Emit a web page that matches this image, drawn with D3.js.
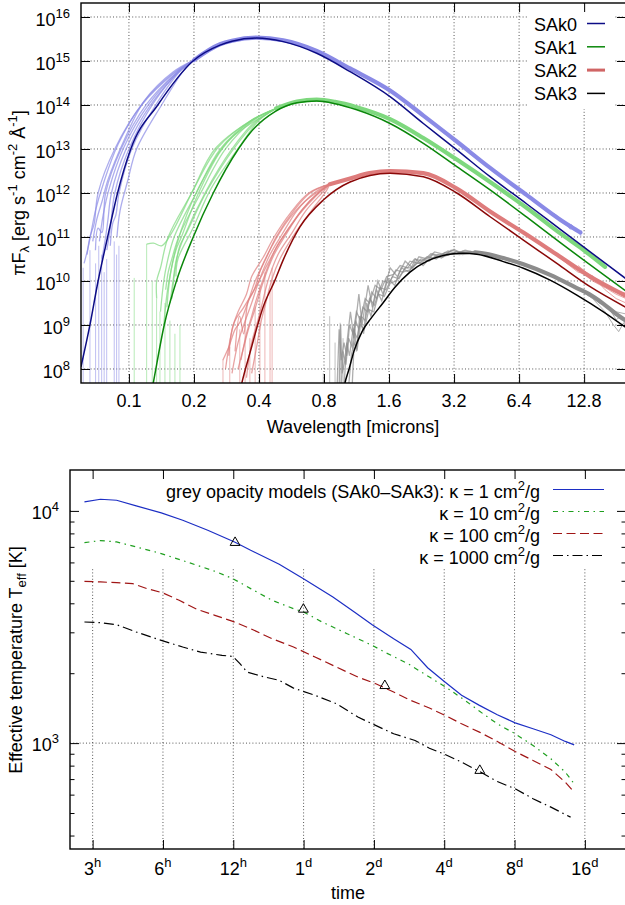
<!DOCTYPE html>
<html><head><meta charset="utf-8">
<script src="https://cdn.jsdelivr.net/npm/d3@7/dist/d3.min.js"></script>
<style>
body{margin:0;background:#fff}
svg{display:block}
text{font-family:"Liberation Sans",Arial,Helvetica,sans-serif;fill:#000}
</style></head>
<body><svg id="c" width="625" height="905"></svg>
<script>
// ---------------- TOP PANEL DATA (wavelength in microns, log10 of pi*F_lambda) ----------------
const wlTicks = [0.1,0.2,0.4,0.8,1.6,3.2,6.4,12.8];
const wlLabels = ["0.1","0.2","0.4","0.8","1.6","3.2","6.4","12.8"];
const fluxExps = [8,9,10,11,12,13,14,15,16];
const sedNames = ["SAk0","SAk1","SAk2","SAk3"];

const sak0Model = [[0.06,8.05],[0.066,9.0],[0.072,10.0],[0.0797,11.0],[0.0886,12.0],[0.102,13.0],[0.136,14.0],[0.198,15.0],[0.264,15.36],[0.3,15.45],[0.39,15.52],[0.518,15.44],[0.74,15.175],[1.056,14.757],[1.617,14.19],[2.307,13.58],[3.294,12.98],[4.698,12.37],[6.95,11.75],[10,11.16],[20,10.05]];
const sak1Model = [[0.122,7.0],[0.1296,7.68],[0.1457,9.0],[0.166,10.0],[0.1985,11.0],[0.2457,12.0],[0.321,13.0],[0.363,13.36],[0.4745,13.85],[0.6,14.05],[0.74,14.09],[0.9,14.03],[1.134,13.89],[1.617,13.58],[2.307,13.13],[3.294,12.6],[4.698,12.07],[6.95,11.45],[10,10.86],[20,9.77]];
const sak2Model = [[0.31,7.0],[0.333,7.68],[0.363,8.36],[0.419,9.42],[0.4745,10.02],[0.518,10.48],[0.619,11.23],[0.794,11.84],[1.056,12.25],[1.617,12.45],[2.307,12.37],[3.294,12.0],[4.698,11.46],[6.70,10.93],[9.57,10.4],[13.64,9.87],[20,9.4]];
const sak3Model = [[0.95,7.0],[1.0,7.68],[1.045,8.0],[1.1,8.4],[1.2,8.85],[1.32,9.15],[1.5,9.5],[1.7,9.85],[2.0,10.2],[2.4,10.45],[3.0,10.6],[3.5,10.63],[4.077,10.61],[5.41,10.44],[6.70,10.29],[8.91,10.02],[11.84,9.68],[15.73,9.3],[20,8.94]];

const sak0SpecLeft = [
 [[0.064,10.6],[0.066,11.0],[0.069,11.3],[0.072,12.0],[0.086,13.0],[0.1145,14.0],[0.16,14.7],[0.2,15.02]],
 [[0.070,10.7],[0.072,11.2],[0.075,11.1],[0.078,12.0],[0.092,13.0],[0.12,14.0],[0.165,14.72],[0.2,15.02]],
 [[0.075,10.5],[0.078,11.0],[0.080,11.4],[0.083,12.0],[0.097,13.0],[0.126,14.0],[0.17,14.75],[0.2,15.02]],
 [[0.082,10.8],[0.084,11.3],[0.087,11.5],[0.090,12.0],[0.103,13.0],[0.133,14.0],[0.175,14.8],[0.2,15.02]],
 [[0.088,11.0],[0.091,11.6],[0.099,12.3],[0.1085,13.0],[0.1416,14.0],[0.18,14.8],[0.2,15.02]],
 [[0.068,10.9],[0.071,11.4],[0.075,11.8],[0.080,12.3],[0.095,13.2],[0.118,14.1],[0.16,14.75],[0.2,15.02]],
 [[0.062,10.4],[0.065,10.8],[0.070,11.6],[0.076,12.2],[0.089,13.1],[0.116,14.05],[0.16,14.72],[0.2,15.02]],
 [[0.073,10.9],[0.076,11.5],[0.081,12.1],[0.094,13.0],[0.123,14.0],[0.168,14.75],[0.2,15.02]],
 [[0.079,10.7],[0.082,11.2],[0.086,12.0],[0.100,13.0],[0.13,14.05],[0.172,14.78],[0.2,15.02]]
];
const sak0SpecRight = [[0.2,15.02],[0.264,15.38],[0.3,15.46],[0.39,15.53],[0.518,15.47],[0.74,15.23],[1.056,14.83],[1.617,14.33],[2.307,13.76],[3.294,13.17],[4.698,12.57],[6.95,11.95],[10,11.38],[12.3,11.1]];
const sak0Tails = [[[8.5,11.62],[9.5,11.5],[10.5,11.3],[11.2,11.28],[12.0,11.1],[12.5,11.14]],[[8.5,11.6],[9.5,11.46],[10.3,11.36],[11,11.18],[11.8,11.2],[12.4,11.02]]];
const sak0Drops = [[0.0614,10.3],[0.066,10.7],[0.0701,10.4],[0.0725,10.8],[0.0748,10.6],[0.0768,10.2],[0.0789,10.5],[0.0855,10.9],[0.0877,10.6],[0.0899,10.8]];

const sak1SpecLeft = [
 [[0.1344,9.6],[0.1344,10.0],[0.14,10.3],[0.152,11.0],[0.195,12.0],[0.25,13.0],[0.36,13.62],[0.48,13.92]],
 [[0.140,9.3],[0.145,10.0],[0.150,10.4],[0.162,11.0],[0.205,12.0],[0.265,13.0],[0.37,13.65],[0.48,13.92]],
 [[0.148,9.8],[0.152,10.2],[0.158,10.5],[0.170,11.0],[0.215,12.0],[0.28,13.0],[0.37,13.62],[0.48,13.92]],
 [[0.155,9.5],[0.160,10.0],[0.166,10.5],[0.180,11.0],[0.225,12.0],[0.30,13.0],[0.38,13.6],[0.48,13.92]],
 [[0.165,10.1],[0.1686,10.5],[0.1978,11.2],[0.24,12.1],[0.33,13.1],[0.40,13.65],[0.48,13.92]],
 [[0.1208,10.84],[0.13,10.86],[0.1417,10.8],[0.158,11.1],[0.20,12.1],[0.26,13.05],[0.37,13.66],[0.48,13.92]],
 [[0.145,9.0],[0.15,9.7],[0.156,10.2],[0.166,10.8],[0.185,11.5],[0.22,12.3],[0.29,13.2],[0.48,13.92]],
 [[0.15,9.4],[0.155,10.1],[0.165,10.7],[0.175,11.0],[0.21,12.0],[0.27,13.0],[0.37,13.64],[0.48,13.92]],
 [[0.158,9.6],[0.163,10.2],[0.172,10.8],[0.185,11.1],[0.23,12.05],[0.31,13.05],[0.39,13.62],[0.48,13.92]]
];
const sak1SpecRight = [[0.48,13.92],[0.6,14.08],[0.74,14.12],[0.9,14.07],[1.134,13.95],[1.617,13.68],[2.307,13.25],[3.294,12.76],[4.698,12.25],[6.95,11.66],[10,11.07],[12.6,10.72],[16,10.32]];
const sak1Tails = [[[10,11.1],[11.5,10.85],[13,10.75],[14.5,10.5],[16,10.4]],[[10,11.04],[11.5,10.9],[13,10.62],[14.5,10.55],[16,10.28]]];
const sak1Drops = [[0.1058,10.07],[0.1208,10.84],[0.1282,10.0],[0.1343,9.6],[0.1392,9.3],[0.1468,9.5],[0.1548,9.1],[0.1633,8.8],[0.1723,9.0]];

const sak2SpecLeft = [
 [[0.272,8.2],[0.29,8.5],[0.31,8.9],[0.33,9.1],[0.36,9.6],[0.384,10.0],[0.43,10.5],[0.48,11.0],[0.58,11.6],[0.69,12.0],[0.85,12.2]],
 [[0.30,7.9],[0.32,8.6],[0.34,9.0],[0.37,9.5],[0.40,10.0],[0.45,10.6],[0.51,11.05],[0.6,11.6],[0.72,12.0],[0.85,12.2]],
 [[0.32,8.0],[0.34,8.5],[0.36,8.95],[0.38,9.3],[0.42,10.0],[0.47,10.6],[0.54,11.1],[0.63,11.6],[0.76,12.02],[0.85,12.2]],
 [[0.35,7.8],[0.37,8.6],[0.39,9.0],[0.41,9.4],[0.44,10.0],[0.49,10.6],[0.57,11.1],[0.66,11.6],[0.8,12.05],[0.85,12.2]],
 [[0.29,8.3],[0.30,8.9],[0.32,9.3],[0.35,9.7],[0.37,10.1],[0.42,10.55],[0.47,11.0],[0.56,11.55],[0.68,12.0],[0.85,12.2]],
 [[0.37,7.9],[0.39,8.5],[0.41,9.1],[0.43,9.5],[0.46,10.05],[0.50,10.5],[0.59,11.1],[0.70,11.6],[0.82,12.05],[0.85,12.2]],
 [[0.31,8.4],[0.325,9.2],[0.34,8.8],[0.355,9.5],[0.38,9.8],[0.41,10.3],[0.46,10.8],[0.53,11.3],[0.65,11.8],[0.85,12.2]],
 [[0.33,8.2],[0.35,8.8],[0.37,9.2],[0.39,9.6],[0.43,10.2],[0.48,10.75],[0.55,11.2],[0.64,11.65],[0.75,12.0],[0.85,12.2]],
 [[0.28,8.0],[0.295,8.7],[0.31,9.1],[0.34,9.4],[0.39,9.9],[0.44,10.4],[0.50,10.9],[0.61,11.5],[0.74,11.95],[0.85,12.2]]
];
const sak2SpecRight = [[0.85,12.2],[1.056,12.33],[1.3,12.45],[1.617,12.5],[2.307,12.45],[3.294,12.1],[4.698,11.58],[6.70,11.1],[9.57,10.6],[13.64,10.1],[20,9.66]];
const sak2Tails = [[[10,10.55],[12,10.3],[14,10.0],[16,9.85],[18,9.7],[20,9.6]],[[10,10.5],[12,10.2],[14,10.12],[16,9.8],[18,9.6],[20,9.5]],[[12,10.35],[14,10.08],[16,9.92],[18,9.78],[20,9.72]]];
const sak2Drops = [[0.2725,8.2],[0.293,8.5],[0.326,8.9],[0.345,9.0],[0.363,8.7],[0.384,9.4],[0.404,9.9],[0.426,10.2],[0.45,9.8],[0.46,10.3]];

const sak3SpecLeft = [
 [[0.92,7.6],[0.94,8.9],[0.96,8.2],[0.99,8.6],[1.02,8.3],[1.05,9.0],[1.09,8.8],[1.13,9.3],[1.18,9.1],[1.24,9.6],[1.3,9.5],[1.38,9.9],[1.47,9.8],[1.56,10.1],[1.68,10.15],[1.8,10.35],[1.95,10.3],[2.1,10.5],[2.3,10.45],[2.5,10.62],[2.75,10.58],[3.0,10.68],[3.3,10.62],[3.6,10.7],[4.0,10.65]],
 [[0.96,7.6],[0.98,8.4],[1.01,8.1],[1.04,8.7],[1.08,8.5],[1.12,9.1],[1.16,8.9],[1.21,9.4],[1.27,9.3],[1.33,9.75],[1.4,9.6],[1.5,10.0],[1.6,9.95],[1.72,10.25],[1.85,10.2],[2.0,10.45],[2.2,10.4],[2.4,10.55],[2.65,10.5],[2.9,10.65],[3.2,10.6],[3.5,10.68],[4.0,10.65]],
 [[0.99,7.6],[1.02,8.6],[1.05,8.3],[1.09,8.9],[1.14,8.7],[1.19,9.2],[1.24,9.1],[1.3,9.6],[1.37,9.45],[1.45,9.85],[1.55,9.8],[1.66,10.1],[1.78,10.05],[1.9,10.3],[2.05,10.3],[2.25,10.5],[2.45,10.45],[2.7,10.6],[3.0,10.58],[3.3,10.68],[3.7,10.63],[4.0,10.65]],
 [[1.04,7.6],[1.07,8.3],[1.1,8.6],[1.14,8.45],[1.18,9.0],[1.23,8.9],[1.29,9.35],[1.36,9.3],[1.43,9.7],[1.52,9.65],[1.62,9.95],[1.73,10.0],[1.85,10.2],[2.0,10.25],[2.15,10.4],[2.35,10.42],[2.6,10.55],[2.85,10.55],[3.1,10.62],[3.4,10.6],[3.8,10.67],[4.0,10.65]],
 [[0.94,7.6],[0.955,9.0],[0.97,7.9],[1.0,8.2],[1.06,9.3],[1.1,8.7],[1.16,9.7],[1.2,9.0],[1.28,9.9],[1.34,9.4],[1.42,10.0],[1.5,9.7],[1.62,10.3],[1.75,10.1],[1.9,10.45],[2.05,10.3],[2.2,10.55],[2.4,10.5],[2.6,10.66],[2.9,10.6],[3.2,10.72],[3.5,10.6],[4.0,10.65]],
 [[1.08,7.6],[1.11,8.9],[1.13,8.4],[1.17,9.2],[1.22,8.8],[1.26,9.5],[1.32,9.2],[1.4,9.8],[1.48,9.55],[1.58,10.05],[1.7,9.9],[1.82,10.3],[1.98,10.2],[2.12,10.5],[2.3,10.35],[2.55,10.6],[2.8,10.52],[3.1,10.7],[3.5,10.64],[4.0,10.65]]
];
const sak3SpecRight = [[4.0,10.65],[4.5,10.62],[5.41,10.52],[6.7,10.38],[8.91,10.14],[11.84,9.84],[13.5,9.7],[15.73,9.48],[18,9.25],[20,9.1]];
const sak3Tails = [[[11.84,9.84],[14,9.6],[16,9.3],[17.5,9.0],[18.5,8.85],[19.5,9.05],[20,8.95]],[[11.84,9.86],[14,9.66],[16,9.45],[18,9.3],[20,9.25]],[[13,9.78],[15,9.5],[16.5,9.42],[18,9.12],[19,9.2],[20,9.0]]];
const sak3Drops = [[0.794,7.9],[0.85,9.2],[0.9,8.6],[0.95,9.05],[0.98,8.7]];

// ---------------- BOTTOM PANEL DATA (time in days, T_eff in K) ----------------
const timeTicks = [0.125,0.25,0.5,1,2,4,8,16];
const timeLabels = [["3","h"],["6","h"],["12","h"],["1","d"],["2","d"],["4","d"],["8","d"],["16","d"]];
const tempMajor = [1000,10000];
const tempMajorLabels = [["10","3"],["10","4"]];
const tempMinor = [400,500,600,700,800,900,2000,3000,4000,5000,6000,7000,8000,9000];

const kappa1 = [[0.1153,10940],[0.1351,11226],[0.1583,11116],[0.1921,10510],[0.2459,9803],[0.3038,9116],[0.3888,8255],[0.5064,7352],[0.5935,6768],[0.7866,5891],[1.007,5076],[1.335,4260],[1.649,3671],[1.966,3237],[2.43,2816],[2.878,2533],[3.396,2112],[3.979,1850],[4.746,1606],[5.66,1454],[6.75,1325],[8.05,1223],[9.6,1153],[11.45,1086],[13.19,1017],[14.4,983]];
const kappa10 = [[0.1153,7303],[0.1351,7450],[0.1583,7352],[0.1921,6995],[0.2459,6549],[0.326,5969],[0.4172,5495],[0.4976,5109],[0.5935,4627],[0.7331,4120],[0.9056,3793],[1.0,3671],[1.2,3323],[1.536,2960],[1.966,2636],[2.264,2443],[2.797,2198],[3.456,1925],[4.121,1726],[4.914,1527],[5.865,1338],[6.75,1211],[8.05,1097],[9.6,977],[11.45,856],[13.19,750],[14.4,668]];
const kappa100 = [[0.1153,4976],[0.1351,4943],[0.1583,4910],[0.1855,4862],[0.2136,4627],[0.25,4433],[0.2933,4121],[0.3497,3768],[0.4172,3551],[0.4976,3345],[0.5935,3110],[0.7331,2816],[0.9056,2593],[1.119,2348],[1.382,2126],[1.708,1925],[2.037,1802],[2.43,1659],[2.878,1527],[3.456,1416],[3.979,1325],[4.746,1211],[5.66,1115],[6.75,1017],[8.05,920],[9.6,842],[11.45,770],[13.19,679],[14.4,615]];
const kappa1000 = [[0.1153,3323],[0.1351,3301],[0.1583,3236],[0.1921,3009],[0.2459,2770],[0.3038,2593],[0.3623,2467],[0.4477,2387],[0.4976,2363],[0.5339,2198],[0.5729,2023],[0.6831,1925],[0.7866,1863],[0.9056,1726],[1.119,1606],[1.382,1478],[1.708,1295],[1.966,1211],[2.43,1097],[3.0,1027],[3.456,951],[3.979,899],[4.746,828],[5.66,755],[6.75,683],[8.05,636],[9.6,576],[11.45,530],[13.9,480]];
const photoMarkers = [[0.509,7303],[0.998,3768],[2.227,1767],[5.68,762]];
const kappaLegend = ["grey opacity models (SAk0\u2013SAk3): \u03ba = 1 cm","\u03ba = 10 cm","\u03ba = 100 cm","\u03ba = 1000 cm"];

// ---------------- DRAWING ----------------
const svg = d3.select("#c");
const gridStyle = s => s.attr("stroke","#444").attr("stroke-width",0.9).attr("stroke-dasharray","1,2.2");

function supText(g, x, y, base, sup, anchor, size, supSize, dyUp){
  const t = g.append("text").attr("x",x).attr("y",y).attr("text-anchor",anchor).style("font-size",size+"px");
  t.append("tspan").text(base);
  t.append("tspan").attr("dy",-dyUp).style("font-size",supSize+"px").text(sup);
  return t;
}

// ===== TOP PANEL =====
const TP = {l:81, r:626, t:3, b:383};
const tx = d3.scaleLog().domain([0.06,20]).range([TP.l,TP.r]);
const ty = d3.scaleLog().domain([4.8e7,2.08e16]).range([TP.b,TP.t]);
svg.append("defs").html(
  `<clipPath id="clipT"><rect x="${TP.l}" y="${TP.t}" width="${TP.r-TP.l}" height="${TP.b-TP.t}"/></clipPath>
   <clipPath id="clipB"><rect x="70" y="470" width="556" height="379"/></clipPath>`);
const topG = svg.append("g");

topG.append("g").selectAll("line").data(wlTicks).join("line")
  .attr("x1",d=>tx(d)).attr("x2",d=>tx(d)).attr("y1",TP.t).attr("y2",TP.b).call(gridStyle);
topG.append("g").selectAll("line").data(fluxExps).join("line")
  .attr("y1",d=>ty(Math.pow(10,d))).attr("y2",d=>ty(Math.pow(10,d))).attr("x1",TP.l).attr("x2",TP.r).call(gridStyle);
topG.append("rect").attr("x",527).attr("y",TP.t+1).attr("width",88).attr("height",105).attr("fill","#fff");

const pl = topG.append("g").attr("clip-path","url(#clipT)");
const lineT = d3.line().x(d=>tx(d[0])).y(d=>ty(Math.pow(10,d[1])));
const lineTC = d3.line().x(d=>tx(d[0])).y(d=>ty(Math.pow(10,d[1]))).curve(d3.curveCatmullRom.alpha(0.5));
const lineTS = d3.line().x(d=>tx(d[0])).y(d=>ty(Math.pow(10,d[1]))).curve(d3.curveMonotoneX);

const seds = [
  {left:sak0SpecLeft,right:sak0SpecRight,tails:sak0Tails,drops:sak0Drops,model:sak0Model,light:"#8a8ae6",dark:"#0c0c86",smooth:true},
  {left:sak1SpecLeft,right:sak1SpecRight,tails:sak1Tails,drops:sak1Drops,model:sak1Model,light:"#7ed87e",dark:"#0a870a",smooth:true},
  {left:sak2SpecLeft,right:sak2SpecRight,tails:sak2Tails,drops:sak2Drops,model:sak2Model,light:"#de7c7c",dark:"#8a0808",smooth:true},
  {left:sak3SpecLeft,right:sak3SpecRight,tails:sak3Tails,drops:sak3Drops,model:sak3Model,light:"#8c8c8c",dark:"#000000",smooth:false}
];
const yBottom = ty.domain()[0];
seds.forEach(s=>{
  const g = pl.append("g");
  g.selectAll(".drop").data(s.drops).join("line")
    .attr("x1",d=>tx(d[0])).attr("x2",d=>tx(d[0])).attr("y1",d=>ty(Math.pow(10,d[1]))).attr("y2",ty(yBottom)+2)
    .attr("stroke",s.light).attr("stroke-opacity",0.55).attr("stroke-width",1);
  g.selectAll(".sl").data(s.left).join("path").attr("d",s.smooth?lineTC:lineT)
    .attr("fill","none").attr("stroke",s.light).attr("stroke-opacity",0.7).attr("stroke-width",1.3);
  g.append("path").attr("d",lineTS(s.right)).attr("fill","none").attr("stroke",s.light).attr("stroke-width",4.2).attr("stroke-linecap","round");
  g.selectAll(".tl").data(s.tails).join("path").attr("d",lineT)
    .attr("fill","none").attr("stroke",s.light).attr("stroke-opacity",0.7).attr("stroke-width",1);
});
seds.forEach(s=>{
  pl.append("path").attr("d",lineTS(s.model)).attr("fill","none").attr("stroke",s.dark).attr("stroke-width",1.5);
});

const tickStyle = g => { g.select(".domain").remove(); g.selectAll(".tick line").attr("stroke","#000").attr("stroke-width",1); g.selectAll(".tick text").remove(); };
topG.append("g").attr("transform",`translate(0,${TP.b})`).call(d3.axisBottom(tx).tickValues(wlTicks).tickSize(-9)).call(tickStyle);
topG.append("g").attr("transform",`translate(0,${TP.t})`).call(d3.axisTop(tx).tickValues(wlTicks).tickSize(-9)).call(tickStyle);
const fluxVals = fluxExps.map(e=>Math.pow(10,e));
topG.append("g").attr("transform",`translate(${TP.l},0)`).call(d3.axisLeft(ty).tickValues(fluxVals).tickSize(-9)).call(tickStyle);
topG.append("g").attr("transform",`translate(${TP.r},0)`).call(d3.axisRight(ty).tickValues(fluxVals).tickSize(-9)).call(tickStyle);
topG.append("rect").attr("x",TP.l).attr("y",TP.t).attr("width",TP.r-TP.l).attr("height",TP.b-TP.t).attr("fill","none").attr("stroke","#000").attr("stroke-width",1.4);

wlTicks.forEach((v,i)=>{
  topG.append("text").attr("x",tx(v)).attr("y",TP.b+24).attr("text-anchor","middle").style("font-size","18px").text(wlLabels[i]);
});
fluxExps.forEach(e=>{
  supText(topG, TP.l-11, ty(Math.pow(10,e))+9, "10", String(e), "end", 18, 13, 8);
});
topG.append("text").attr("x",353).attr("y",433).attr("text-anchor","middle").style("font-size","18px").text("Wavelength [microns]");
{
  const t = topG.append("text").attr("transform","translate(25,193) rotate(-90)").attr("text-anchor","middle").style("font-size","18px");
  const segs = [["\u03c0F",0,18],["\u03bb",4,13],[" [erg s",-4,18],["-1",-8,13],[" cm",8,18],["-2",-8,13],[" \u00c5",8,18],["-1",-8,13],["]",8,18]];
  segs.forEach(s=>t.append("tspan").attr("dy",s[1]).style("font-size",s[2]+"px").text(s[0]));
}
const legColors = ["#0c0c86","#0a870a","#d06565","#000000"];
const legWidths = [1.5,1.5,3,1.5];
sedNames.forEach((n,i)=>{
  const y = 30.5 + i*23.3;
  topG.append("text").attr("x",577).attr("y",y).attr("text-anchor","end").style("font-size","18px").text(n);
  topG.append("line").attr("x1",587).attr("x2",605).attr("y1",y-7).attr("y2",y-7).attr("stroke",legColors[i]).attr("stroke-width",legWidths[i]);
});

// ===== BOTTOM PANEL =====
const BP = {l:70, r:626, t:470, b:849};
const bx = d3.scaleLog().domain([0.1,24]).range([BP.l,BP.r]);
const by = d3.scaleLog().domain([350,15000]).range([BP.b,BP.t]);
const botG = svg.append("g");
botG.append("g").selectAll("line").data(timeTicks).join("line")
  .attr("x1",d=>bx(d)).attr("x2",d=>bx(d)).attr("y1",BP.t).attr("y2",BP.b).call(gridStyle);
botG.append("g").selectAll("line").data(tempMajor).join("line")
  .attr("y1",d=>by(d)).attr("y2",d=>by(d)).attr("x1",BP.l).attr("x2",BP.r).call(gridStyle);
botG.append("rect").attr("x",BP.l+1).attr("y",BP.t+1).attr("width",BP.r-BP.l-2).attr("height",96).attr("fill","#fff");

const pb = botG.append("g").attr("clip-path","url(#clipB)");
const lineB = d3.line().x(d=>bx(d[0])).y(d=>by(d[1]));
const kStyles = [
  {data:kappa1,color:"#1c2ec4",dash:null},
  {data:kappa10,color:"#1f9f1f",dash:"5,4.5,1.5,4.5"},
  {data:kappa100,color:"#a01515",dash:"9,4.5"},
  {data:kappa1000,color:"#000000",dash:"10,4,1.5,4"}
];
kStyles.forEach(k=>{
  pb.append("path").attr("d",lineB(k.data)).attr("fill","none").attr("stroke",k.color).attr("stroke-width",1.2)
    .attr("stroke-dasharray",k.dash);
});
pb.selectAll(".mk").data(photoMarkers).join("path")
  .attr("d",d3.symbol(d3.symbolTriangle).size(42))
  .attr("transform",d=>`translate(${bx(d[0])},${by(d[1])})`)
  .attr("fill","none").attr("stroke","#000").attr("stroke-width",1);

botG.append("g").attr("transform",`translate(0,${BP.b})`).call(d3.axisBottom(bx).tickValues(timeTicks).tickSize(-9)).call(tickStyle);
botG.append("g").attr("transform",`translate(0,${BP.t})`).call(d3.axisTop(bx).tickValues(timeTicks).tickSize(-9)).call(tickStyle);
botG.append("g").attr("transform",`translate(${BP.l},0)`).call(d3.axisLeft(by).tickValues(tempMajor).tickSize(-9)).call(tickStyle);
botG.append("g").attr("transform",`translate(${BP.l},0)`).call(d3.axisLeft(by).tickValues(tempMinor).tickSize(-4.5)).call(tickStyle);
botG.append("g").attr("transform",`translate(${BP.r},0)`).call(d3.axisRight(by).tickValues(tempMajor).tickSize(-9)).call(tickStyle);
botG.append("g").attr("transform",`translate(${BP.r},0)`).call(d3.axisRight(by).tickValues(tempMinor).tickSize(-4.5)).call(tickStyle);
botG.append("rect").attr("x",BP.l).attr("y",BP.t).attr("width",BP.r-BP.l).attr("height",BP.b-BP.t).attr("fill","none").attr("stroke","#000").attr("stroke-width",1.4);

timeTicks.forEach((v,i)=>{
  supText(botG, bx(v), BP.b+26, timeLabels[i][0], timeLabels[i][1], "middle", 18, 13, 8);
});
tempMajor.forEach((v,i)=>{
  supText(botG, BP.l-11, by(v)+8, tempMajorLabels[i][0], tempMajorLabels[i][1], "end", 18, 13, 8);
});
botG.append("text").attr("x",348).attr("y",899).attr("text-anchor","middle").style("font-size","18px").text("time");
{
  const t = botG.append("text").attr("transform","translate(22,660) rotate(-90)").attr("text-anchor","middle").style("font-size","18px");
  t.append("tspan").text("Effective temperature T");
  t.append("tspan").attr("dy",4).style("font-size","13px").text("eff");
  t.append("tspan").attr("dy",-4).text(" [K]");
}
kappaLegend.forEach((txt,i)=>{
  const y = 497.5 + i*22;
  const t = botG.append("text").attr("x",540).attr("y",y).attr("text-anchor","end").style("font-size","18px");
  t.append("tspan").text(txt);
  t.append("tspan").attr("dy",-8).style("font-size","13px").text("2");
  t.append("tspan").attr("dy",8).text("/g");
  botG.append("line").attr("x1",553).attr("x2",604).attr("y1",y-8).attr("y2",y-8)
    .attr("stroke",kStyles[i].color).attr("stroke-width",1.2).attr("stroke-dasharray",kStyles[i].dash);
});
</script></body></html>
